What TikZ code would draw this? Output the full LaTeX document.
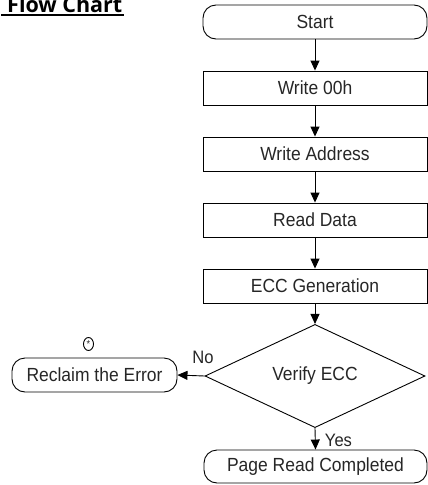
\documentclass[tikz,border=0pt]{standalone}
\usepackage{fontspec}
\setmainfont{Liberation Sans}[FakeStretch=0.92]
\newfontfamily\titlefont{Open Sans}
\usetikzlibrary{arrows.meta,shapes.geometric}

\begin{document}
\begin{tikzpicture}[x=1pt,y=-1pt,
  every node/.style={font=\fontsize{19}{21}\selectfont, text=black!85, inner sep=0pt},
  procbox/.style={draw, line width=0.9pt, minimum width=224pt, minimum height=34pt},
  termbox/.style={procbox, rounded corners=13pt},
  decision/.style={draw, line width=0.9pt, diamond, minimum width=220pt, minimum height=82pt},
  flow/.style={line width=0.9pt, -{Triangle[length=10pt,width=9pt]}},
  lbl/.style={font=\fontsize{18}{20}\selectfont},
  notemark/.style={draw, ellipse, line width=0.9pt, minimum width=10pt, minimum height=13pt,
    font=\fontsize{10}{10}\selectfont}
]
\useasboundingbox (0,0) rectangle (428,485);

% heading
\node[anchor=base west, font=\titlefont\bfseries\fontsize{21.5}{24}\selectfont, text=black] (title) at (7,12.5) {Flow Chart};
\draw[line width=1.8pt] (1,15.2) -- ([xshift=1pt]title.east |- 0,15.2);

% main column
\node[termbox] (start) at (315,22) {Start};
\node[procbox] (w00)   at (315,88) {Write 00h};
\node[procbox] (waddr) at (315,154) {Write Address};
\node[procbox] (rdata) at (315,220) {Read Data};
\node[procbox] (ecc)   at (315,286) {ECC Generation};
\node[decision] (verify) at (315,376) {Verify ECC};
\node[termbox, minimum width=223pt, minimum height=33pt] (done) at (315.5,466.5) {Page Read Completed};

% error branch
\node[termbox, minimum width=165pt] (reclaim) at (94.5,375) {Reclaim the Error};
\node[notemark] (mark) at (88.5,344) {\raisebox{-2.5pt}{*}};

% connectors
\draw[flow] (start) -- (w00);
\draw[flow] (w00) -- (waddr);
\draw[flow] (waddr) -- (rdata);
\draw[flow] (rdata) -- (ecc);
\draw[flow] (ecc) -- (verify);
\draw[flow] (verify.west) -- (reclaim.east);
\draw[flow] (verify.south) -- (done.north);

% branch labels
\node[lbl] (nolbl) at (203,357) {No};
\node[lbl] (yeslbl) at (338.5,440) {Yes};
\end{tikzpicture}
\end{document}
